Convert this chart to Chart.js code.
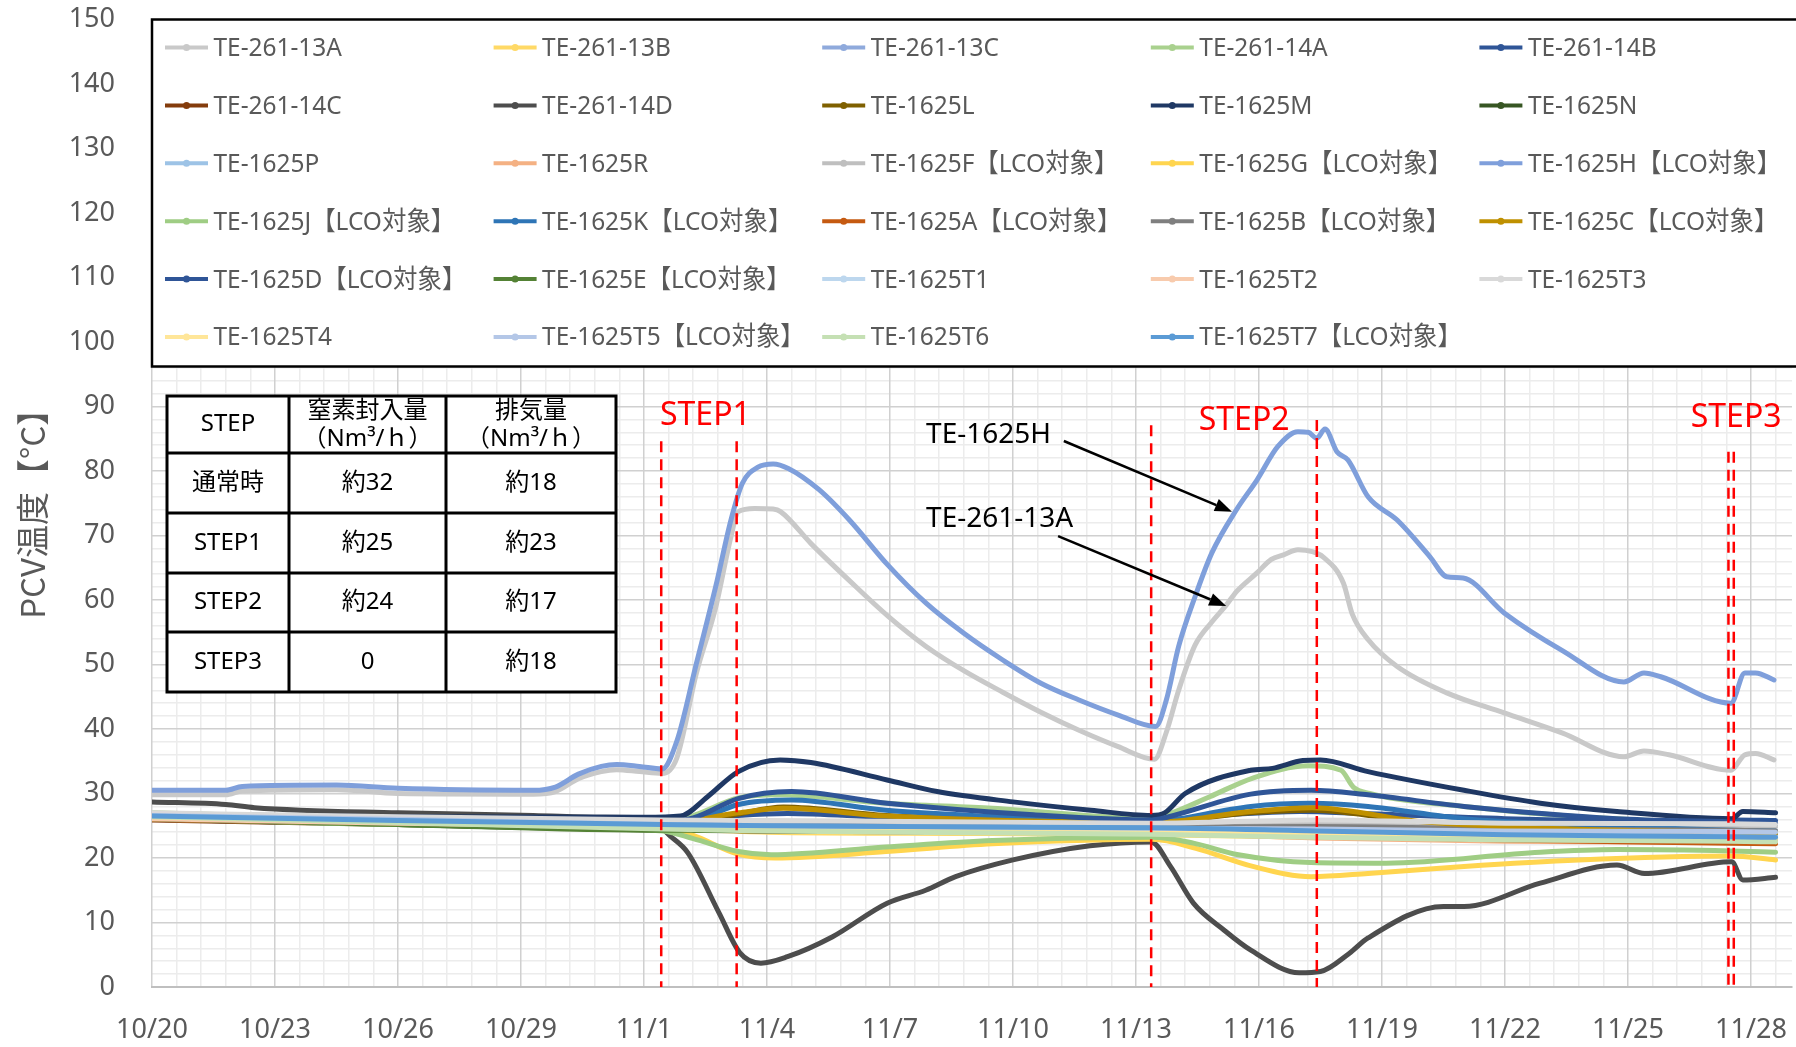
<!DOCTYPE html>
<html lang="ja">
<head>
<meta charset="utf-8">
<title>PCV温度</title>
<script src="https://cdn.jsdelivr.net/npm/chart.js@4.4.1/dist/chart.umd.min.js"></script>
<style>
	html, body { margin: 0; padding: 0; background: #ffffff; }
	#wrap { width: 1796px; height: 1047px; }
</style>
</head>
<body>
<div id="wrap"><canvas id="canvasPcv" width="1796" height="1047"></canvas></div>
<script>
"use strict";

// x = days since 10/20, y = temperature
var dateLabels = ['10/20', '10/23', '10/26', '10/29', '11/1', '11/4', '11/7', '11/10', '11/13', '11/16', '11/19', '11/22', '11/25', '11/28'];

var seriesNames = [
	'TE-261-13A', 'TE-261-13B', 'TE-261-13C', 'TE-261-14A', 'TE-261-14B',
	'TE-261-14C', 'TE-261-14D', 'TE-1625L', 'TE-1625M', 'TE-1625N',
	'TE-1625P', 'TE-1625R', 'TE-1625F【LCO対象】', 'TE-1625G【LCO対象】', 'TE-1625H【LCO対象】',
	'TE-1625J【LCO対象】', 'TE-1625K【LCO対象】', 'TE-1625A【LCO対象】', 'TE-1625B【LCO対象】', 'TE-1625C【LCO対象】',
	'TE-1625D【LCO対象】', 'TE-1625E【LCO対象】', 'TE-1625T1', 'TE-1625T2', 'TE-1625T3',
	'TE-1625T4', 'TE-1625T5【LCO対象】', 'TE-1625T6', 'TE-1625T7【LCO対象】'
];

var seriesColors = [
	'#c9c9c9', '#ffd966', '#8faadc', '#a9d18e', '#2f5597',
	'#843c0c', '#4d4d4d', '#7f6000', '#1f3864', '#375623',
	'#9dc3e6', '#f4b183', '#bfbfbf', '#ffd54f', '#7f9fdb',
	'#9fcd84', '#2e75b6', '#c55a11', '#7f7f7f', '#bf9000',
	'#2f5597', '#548235', '#bdd7ee', '#f8cbad', '#d9d9d9',
	'#ffe699', '#b4c7e7', '#c5e0b4', '#5b9bd5'
];

var te261_13A = [[0,29.8],[1.8,29.8],[2.2,30.4],[4.5,30.6],[6,30.0],[9.3,29.9],[9.84,30.3],[10.4,32.3],[10.96,33.4],[11.33,33.7],[11.89,33.4],[12.44,33.1],[12.8,35.5],[13.28,48.7],[13.75,58.9],[14.12,69.8],[14.3,73.7],[14.7,74.2],[15.15,74.1],[15.33,73.7],[16.08,68.7],[17.01,63.0],[17.95,57.5],[18.88,52.8],[19.81,49.0],[20.75,45.7],[21.68,42.6],[22.61,39.8],[23.55,37.3],[24.45,35.3],[24.74,39.5],[25.04,46],[25.44,53],[25.85,56.6],[26.2,59.2],[26.45,61.3],[26.95,64.2],[27.3,66.3],[27.6,67],[27.95,67.8],[28.3,67.5],[28.56,66.7],[29.06,62.6],[29.27,57.9],[29.67,53.8],[30.37,49.7],[31.58,45.6],[32.98,42.5],[34.39,39.4],[35.9,35.7],[36.39,36.6],[37,36],[38.51,33.6],[38.85,36],[39.11,36.2],[39.56,35.2]];
var te261_13B = [[0,26.3],[6,25.4],[12.45,24.6],[15,24.0],[20,23.8],[24.4,23.6],[28.4,23.2],[33,23.0],[38.5,22.9],[39.6,22.8]];
var te261_13C = [[0,26.6],[6,26.0],[12.45,25.3],[15,25.1],[20,24.8],[24.4,24.6],[28.4,24.5],[33,24.1],[38.5,23.9],[39.6,23.8]];
var te261_14A = [[0,27.0],[6,26.0],[12.45,25.0],[13.3,26.8],[14.3,29.3],[15.3,29.8],[17.9,28.5],[20.5,27.7],[24.4,26.1],[24.8,26.8],[25.8,29.5],[26.85,32.4],[28.2,34.3],[29.0,33.6],[29.3,31],[29.7,30],[32,28],[34.8,26.4],[38.5,25.4],[39.6,25.2]];
var te261_14B = [[0,26.5],[6,26.0],[12.45,25.6],[14.3,26.6],[15.5,26.9],[18,26.3],[24.4,25.8],[26,26.6],[28,27.2],[29.5,26.9],[33,26.1],[38.5,25.6],[38.6,25.9],[39.6,25.8]];
var te261_14C = [[0,25.9],[6,25.2],[12.45,24.4],[15,24.2],[20,24.0],[24.4,23.9],[28.4,23.4],[33,22.9],[38.5,22.5],[39.6,22.4]];
var te261_14D = [[0,28.7],[1.8,28.3],[2.5,27.8],[6,27],[9.3,26.6],[11,26.3],[12.3,26.2],[12.5,24.3],[13.07,20.8],[13.83,11.5],[14.34,5.3],[14.85,3.7],[15.5,4.7],[16.6,7.8],[17.93,13],[18.87,15],[19.6,17.1],[21.0,19.7],[22.88,21.9],[24.37,22.5],[24.84,18.7],[25.4,13],[26.15,8.8],[26.8,5.7],[27.98,2.2],[28.5,2.4],[29.2,5.2],[29.66,7.6],[31.5,12.5],[32,12.5],[33.86,16.1],[35.73,18.9],[36.4,17.6],[38.53,19.4],[38.8,16.6],[39.6,17]];
var te1625L = [[0,26.2],[6,25.8],[12.45,25.3],[13.3,25.5],[14.3,26.8],[15.4,27.9],[17.9,26.6],[21,26],[24.4,25.7],[25.2,25.9],[26.8,27.0],[28.3,27.4],[31.1,25.4],[35,24.4],[38.5,23.8],[39.6,23.6]];
var te1625M = [[0,26.8],[6,26.4],[12,26.3],[12.89,26.5],[13.55,29.5],[14.3,33.4],[15.32,35.2],[16.07,34.8],[17.93,32.1],[19.15,30.3],[21.0,28.7],[22.9,27.4],[24.37,26.6],[24.7,27.0],[25.2,30.0],[26.8,33.6],[27.33,33.9],[28.07,35.1],[28.5,35.2],[29.66,33.4],[32,30.5],[33.86,28.5],[35.73,27.2],[38.53,26.1],[38.8,27.2],[39.6,27.0]];
var te1625N = [[0,26.0],[6,25.2],[12.45,24.3],[15,24.2],[20,24.1],[24.4,24.0],[28.4,23.5],[33,23.0],[38.5,22.7],[39.6,22.6]];
var te1625P = [[0,26.4],[6,25.7],[12.45,25.0],[15,24.8],[20,24.5],[24.4,24.3],[28.4,24.0],[33,23.7],[38.5,23.5],[39.6,23.4]];
var te1625R = [[0,26.0],[6,25.3],[12.45,24.6],[15,24.3],[20,24.1],[24.4,23.9],[28.4,23.1],[33,22.6],[38.5,22.4],[39.6,22.3]];
var te1625F = [[0,26.8],[6,26.2],[12.45,25.6],[15,25.5],[20,25.3],[24.4,25.1],[28.4,25.5],[33,25.0],[38.5,24.9],[39.6,24.8]];
var te1625G = [[0,26.2],[6,25.5],[12.45,24.8],[13.2,23.5],[14.3,20.6],[15.2,20.0],[17.9,21.0],[20.5,22.2],[24.4,22.9],[25.46,21.5],[26.85,18.7],[28.27,17.1],[29.66,17.6],[32,18.7],[34.8,19.7],[38.5,20.3],[39.6,19.7]];
var te1625H = [[0,30.5],[1.8,30.5],[2.2,31.1],[4.5,31.3],[6,30.8],[9.3,30.5],[9.84,31],[10.4,33],[10.96,34.2],[11.33,34.5],[11.89,34.2],[12.44,33.8],[12.81,38.3],[13.28,50.2],[13.75,62.1],[14.12,72.4],[14.4,78.1],[14.78,80.6],[15.15,81.1],[15.52,80.4],[16.27,77.1],[17.01,72.4],[17.95,65.4],[18.88,59.5],[19.81,54.8],[20.75,50.7],[21.68,47.1],[22.61,44.5],[23.55,42.2],[24.48,40.4],[24.74,44.5],[25.04,52.8],[25.44,60.5],[25.85,67.3],[26.45,74],[26.95,78.6],[27.46,83.8],[27.95,86.1],[28.2,86],[28.41,85.1],[28.61,86.5],[28.9,83],[29.17,81.7],[29.66,76],[30.37,72.4],[31.17,66.7],[31.58,63.6],[31.98,63.4],[32.98,58],[34.39,52.2],[35.9,47.3],[36.39,48.7],[36.8,48.1],[38.51,44],[38.85,48.7],[39.11,48.7],[39.56,47.6]];
var te1625J = [[0,26.2],[6,25.2],[12.45,24.2],[13.2,23.0],[14.3,21.0],[15.1,20.5],[17.9,21.7],[20.5,22.7],[24.4,23.2],[25.4,22.3],[26.5,20.5],[28.27,19.3],[30.1,19.2],[33.86,20.9],[35.73,21.3],[38.5,21.1],[39.6,20.9]];
var te1625K = [[0,26.6],[6,26.0],[12.45,25.4],[13.3,25.9],[14.3,28.3],[15.6,29.0],[17.9,27.4],[21,26.3],[24.4,25.5],[24.8,25.8],[26.8,28.0],[28.27,28.5],[29.66,28.0],[32,26.1],[35,25.1],[38.5,24.3],[39.6,24.2]];
var te1625A = [[0,26.0],[6,25.3],[12.45,24.6],[15,24.4],[20,24.3],[24.4,24.1],[28.4,23.4],[33,22.8],[38.5,22.3],[39.6,22.2]];
var te1625B = [[0,26.4],[6,25.8],[12.45,25.3],[15,25.1],[20,24.9],[24.4,24.8],[28.4,24.9],[33,24.5],[38.5,24.3],[39.6,24.2]];
var te1625C = [[0,26.3],[6,25.8],[12.45,25.3],[14.3,27.0],[15.4,27.7],[17.9,26.5],[24.4,25.5],[26.8,27.2],[28.3,27.8],[31,25.6],[35,24.4],[38.5,24.0],[39.6,23.9]];
var te1625D = [[0,26.7],[6,26.1],[12.45,25.6],[13.2,26.2],[14.3,29.2],[15.6,30.3],[17.93,28.5],[21.5,26.7],[24.4,25.9],[24.8,26.4],[26.8,29.9],[28.27,30.5],[29.66,29.8],[32,28],[35.73,26.1],[38.5,25.6],[39.6,25.3]];
var te1625E = [[0,26.1],[6,25.2],[12.45,24.3],[15,24.3],[20,24.2],[24.4,24.1],[28.4,23.7],[33,23.2],[38.5,23.0],[39.6,22.9]];
var te1625T1 = [[0,26.5],[6,25.8],[12.45,25.1],[15,24.9],[20,24.6],[24.4,24.4],[28.4,23.9],[33,23.5],[38.5,23.3],[39.6,23.2]];
var te1625T2 = [[0,26.1],[6,25.4],[12.45,24.8],[15,24.5],[20,24.3],[24.4,24.1],[28.4,23.4],[33,22.9],[38.5,22.7],[39.6,22.6]];
var te1625T3 = [[0,27.0],[6,26.4],[12.45,25.9],[15,25.8],[20,25.6],[24.4,25.4],[28.4,25.9],[33,25.4],[38.5,25.3],[39.6,25.2]];
var te1625T4 = [[0,26.4],[6,25.7],[12.45,25.0],[15,24.7],[20,24.5],[24.4,24.3],[28.4,23.8],[33,23.3],[38.5,23.1],[39.6,23.0]];
var te1625T5 = [[0,26.6],[6,26.0],[12.45,25.2],[15,25.0],[20,24.8],[24.4,24.6],[28.4,24.5],[33,24.2],[38.5,24.1],[39.6,24.0]];
var te1625T6 = [[0,26.4],[6,25.5],[12.45,24.5],[15,24.2],[20,23.9],[24.4,23.7],[28.4,23.2],[33,22.8],[38.5,22.6],[39.6,22.5]];
var te1625T7 = [[0,26.5],[6,25.8],[12.45,25.2],[15,25.0],[20,24.8],[24.4,24.7],[28.4,24.2],[33,23.6],[38.5,23.3],[39.6,23.2]];

var seriesData = [
	te261_13A, te261_13B, te261_13C, te261_14A, te261_14B,
	te261_14C, te261_14D, te1625L, te1625M, te1625N,
	te1625P, te1625R, te1625F, te1625G, te1625H,
	te1625J, te1625K, te1625A, te1625B, te1625C,
	te1625D, te1625E, te1625T1, te1625T2, te1625T3,
	te1625T4, te1625T5, te1625T6, te1625T7
];

// STEP change days (red dashed lines)
var stepNames = ['STEP1', 'STEP2', 'STEP3'];
var stepDays = [12.42, 14.26, 24.37, 28.41, 38.45, 38.58];
var stepTops = [84.6, 84.6, 87.1, 87.9, 83, 83];

// table
var tableHeader = ['STEP', '窒素封入量\n（Nm³/ｈ）', '排気量\n（Nm³/ｈ）'];
var tableSteps = ['通常時', 'STEP1', 'STEP2', 'STEP3'];
var tableNitrogen = ['約32', '約25', '約24', '0'];
var tableExhaust = ['約18', '約23', '約17', '約18'];

var yTitle = 'PCV温度【°C】';

var fontLatin = '"Noto Sans", "Noto Sans CJK JP", sans-serif';
var fontCjk = '"Noto Sans CJK JP", sans-serif';

function $each(arr, fn) {
	for (var i = 0; i < arr.length; i++) fn(i, arr[i]);
}

function BuildDatasets() {
	var datasets = [];
	$each(seriesNames, function (index, name) {
		datasets.push({
			label: name,
			data: seriesData[index],
			borderColor: seriesColors[index],
			backgroundColor: seriesColors[index],
			order: seriesNames.length - index,
			fill: false
		});
	});
	return datasets;
}

function MinorGridColor(c) {
	return c.index % 5 === 0 ? 'rgba(0,0,0,0)' : '#ececec';
}

// overlays: dashed step lines, labels, arrows, table, legend box
function DrawStepLines(ctx, xs, ys) {
	ctx.save();
	ctx.strokeStyle = '#ff0000';
	ctx.lineWidth = 2.5;
	ctx.setLineDash([11, 7]);
	$each(stepDays, function (i, d) {
		var px = xs.getPixelForValue(d);
		ctx.beginPath();
		ctx.moveTo(px, ys.getPixelForValue(stepTops[i]));
		ctx.lineTo(px, ys.getPixelForValue(0));
		ctx.stroke();
	});
	ctx.restore();

	ctx.save();
	ctx.fillStyle = '#ff0000';
	ctx.font = '32px ' + fontLatin;
	ctx.textBaseline = 'alphabetic';
	ctx.fillText(stepNames[0], xs.getPixelForValue(12.39), ys.getPixelForValue(87.1));
	ctx.fillText(stepNames[1], xs.getPixelForValue(25.53), ys.getPixelForValue(86.4));
	ctx.fillText(stepNames[2], xs.getPixelForValue(37.53), ys.getPixelForValue(86.8));
	ctx.restore();
}

function DrawArrow(ctx, x1, y1, x2, y2) {
	var ang = Math.atan2(y2 - y1, x2 - x1);
	var head = 17, half = 6.5;
	var bx = x2 - head * Math.cos(ang), by = y2 - head * Math.sin(ang);
	ctx.beginPath();
	ctx.moveTo(x1, y1);
	ctx.lineTo(bx, by);
	ctx.stroke();
	ctx.beginPath();
	ctx.moveTo(x2, y2);
	ctx.lineTo(bx + half * Math.sin(ang), by - half * Math.cos(ang));
	ctx.lineTo(bx - half * Math.sin(ang), by + half * Math.cos(ang));
	ctx.closePath();
	ctx.fill();
}

function DrawCallouts(ctx, xs, ys) {
	ctx.save();
	ctx.fillStyle = '#000000';
	ctx.strokeStyle = '#000000';
	ctx.lineWidth = 2.5;
	ctx.font = '28px ' + fontLatin;
	ctx.textBaseline = 'alphabetic';
	ctx.fillText('TE-1625H', xs.getPixelForValue(18.88), ys.getPixelForValue(84.3));
	ctx.fillText('TE-261-13A', xs.getPixelForValue(18.88), ys.getPixelForValue(71.3));
	DrawArrow(ctx, xs.getPixelForValue(22.24), ys.getPixelForValue(84.65), xs.getPixelForValue(26.34), ys.getPixelForValue(73.7));
	DrawArrow(ctx, xs.getPixelForValue(22.1), ys.getPixelForValue(69.9), xs.getPixelForValue(26.2), ys.getPixelForValue(59.07));
	ctx.restore();
}

function DrawTable(ctx) {
	var colX = [167, 289, 446, 616];
	var rowY = [396, 453, 513, 573, 632, 692];
	ctx.save();
	ctx.fillStyle = '#ffffff';
	ctx.fillRect(colX[0], rowY[0], colX[3] - colX[0], rowY[5] - rowY[0]);
	ctx.strokeStyle = '#000000';
	ctx.lineWidth = 3;
	ctx.beginPath();
	$each(colX, function (i, x) { ctx.moveTo(x, rowY[0]); ctx.lineTo(x, rowY[5]); });
	$each(rowY, function (i, y) { ctx.moveTo(colX[0] - 1.5, y); ctx.lineTo(colX[3] + 1.5, y); });
	ctx.stroke();

	ctx.fillStyle = '#000000';
	ctx.font = '24px ' + fontLatin;
	ctx.textAlign = 'center';
	ctx.textBaseline = 'middle';
	$each(tableHeader, function (i, txt) {
		var cx = (colX[i] + colX[i + 1]) / 2;
		var cy = (rowY[0] + rowY[1]) / 2;
		var lines = txt.split('\n');
		if (lines.length === 1) {
			ctx.fillText(lines[0], cx, cy);
		} else {
			ctx.fillText(lines[0], cx, cy - 13);
			ctx.fillText(lines[1], cx, cy + 15);
		}
	});
	$each(tableSteps, function (r, step) {
		var cy = (rowY[r + 1] + rowY[r + 2]) / 2;
		ctx.fillText(step, (colX[0] + colX[1]) / 2, cy);
		ctx.fillText(tableNitrogen[r], (colX[1] + colX[2]) / 2, cy);
		ctx.fillText(tableExhaust[r], (colX[2] + colX[3]) / 2, cy);
	});
	ctx.restore();
}

function DrawLegendBox(ctx) {
	var left = 152, top = 19.5, bottom = 366.5;
	ctx.save();
	ctx.fillStyle = '#ffffff';
	ctx.fillRect(left, top, 1800 - left, bottom - top);
	ctx.strokeStyle = '#000000';
	ctx.lineWidth = 2.5;
	ctx.strokeRect(left, top, 1810 - left, bottom - top);

	ctx.font = '26px ' + fontLatin;
	ctx.textBaseline = 'middle';
	ctx.textAlign = 'left';
	$each(seriesNames, function (i, name) {
		var col = i % 5, row = Math.floor(i / 5);
		var x = 165 + col * 328.6;
		var y = 47.5 + row * 57.9;
		ctx.strokeStyle = seriesColors[i];
		ctx.lineWidth = 4;
		ctx.beginPath();
		ctx.moveTo(x, y);
		ctx.lineTo(x + 43, y);
		ctx.stroke();
		ctx.fillStyle = seriesColors[i];
		ctx.beginPath();
		ctx.arc(x + 21.5, y, 3.5, 0, Math.PI * 2);
		ctx.fill();
		ctx.fillStyle = '#595959';
		ctx.save();
		ctx.translate(x + 48.5, y + 1);
		ctx.scale(0.94, 1);
		ctx.fillText(name, 0, 0);
		ctx.restore();
	});
	ctx.restore();
}

function DrawAxisTitle(ctx, ys) {
	ctx.save();
	ctx.translate(32, ys.getPixelForValue(74.6));
	ctx.rotate(-Math.PI / 2);
	ctx.fillStyle = '#595959';
	ctx.font = '33px ' + fontCjk;
	ctx.textAlign = 'center';
	ctx.textBaseline = 'middle';
	ctx.fillText(yTitle, 0, 0);
	ctx.restore();
}

var overlayPlugin = {
	id: 'pcvOverlay',
	afterDatasetsDraw: function (chart) {
		var ctx = chart.ctx;
		var xs = chart.scales.x;
		var ys = chart.scales.y;
		DrawStepLines(ctx, xs, ys);
		DrawCallouts(ctx, xs, ys);
		DrawTable(ctx);
		DrawLegendBox(ctx);
		DrawAxisTitle(ctx, ys);
	}
};

const context = document.getElementById('canvasPcv');
const pcvChart = new Chart(context, {
	type: 'line',
	data: {
		datasets: BuildDatasets()
	},
	plugins: [overlayPlugin],
	options: {
		responsive: false,
		animation: false,
		devicePixelRatio: 1,
		layout: { padding: { top: 19.5, right: 4, left: 0, bottom: 0 } },
		elements: {
			point: { radius: 0, hoverRadius: 0 },
			line: { borderWidth: 5, cubicInterpolationMode: 'monotone', borderCapStyle: 'round', borderJoinStyle: 'round' }
		},
		plugins: {
			legend: { display: false },
			tooltip: { enabled: false }
		},
		scales: {
			x: {
				type: 'linear',
				min: 0,
				max: 40,
				afterFit: function (scale) { scale.height = 60; },
				grid: { color: '#d0d0d0', lineWidth: 1.5, drawTicks: true, tickLength: 27, tickColor: 'rgba(0,0,0,0)' },
				border: { display: true, color: '#bfbfbf', width: 2 },
				ticks: {
					stepSize: 3,
					includeBounds: false,
					autoSkip: false,
					maxRotation: 0,
					padding: 0,
					color: '#595959',
					font: { family: fontLatin, size: 27 },
					callback: function (value) { return dateLabels[Math.round(value / 3)]; }
				}
			},
			xMinor: {
				type: 'linear',
				position: 'bottom',
				min: 0,
				max: 40,
				grid: { z: -2, color: MinorGridColor, lineWidth: 1.5, drawTicks: false },
				border: { display: false },
				ticks: { display: false, stepSize: 0.6, includeBounds: false }
			},
			y: {
				type: 'linear',
				position: 'left',
				min: 0,
				max: 150,
				afterFit: function (scale) { scale.width = 152; },
				grid: { color: '#d0d0d0', lineWidth: 1.5, drawTicks: true, tickLength: 37, tickColor: 'rgba(0,0,0,0)' },
				border: { display: false },
				ticks: {
					stepSize: 10,
					padding: 0,
					color: '#595959',
					font: { family: fontLatin, size: 27 }
				}
			},
			yMinor: {
				type: 'linear',
				position: 'left',
				min: 0,
				max: 150,
				grid: { z: -2, color: MinorGridColor, lineWidth: 1.5, drawTicks: false },
				border: { display: false },
				ticks: { display: false, stepSize: 2 }
			}
		}
	}
});
</script>
</body>
</html>
